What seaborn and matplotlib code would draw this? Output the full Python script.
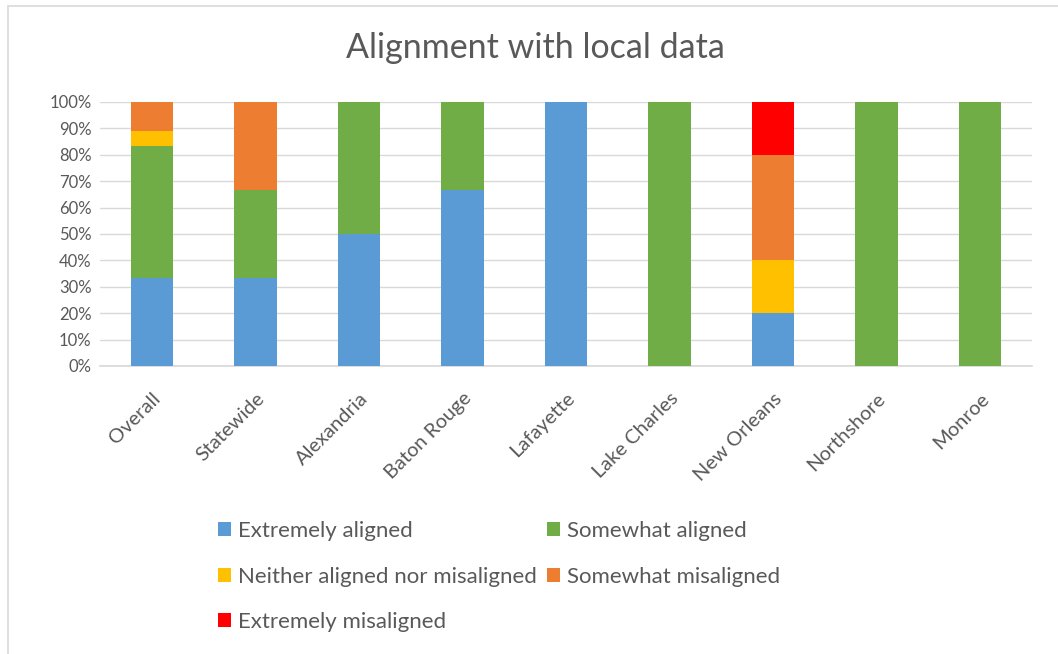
import matplotlib
matplotlib.use("Agg")
import matplotlib.pyplot as plt
import seaborn as sns
import pandas as pd
import numpy as np
from matplotlib.patches import Patch
from matplotlib.lines import Line2D

categories = ["Overall", "Statewide", "Alexandria", "Baton Rouge", "Lafayette",
              "Lake Charles", "New Orleans", "Northshore", "Monroe"]
series_names = ["Extremely aligned", "Somewhat aligned", "Neither aligned nor misaligned",
                "Somewhat misaligned", "Extremely misaligned"]
extremely_aligned = [33.3, 33.3, 50.0, 66.7, 100.0, 0.0, 20.0, 0.0, 0.0]
somewhat_aligned = [50.0, 33.3, 50.0, 33.3, 0.0, 100.0, 0.0, 100.0, 100.0]
neither = [5.6, 0.0, 0.0, 0.0, 0.0, 0.0, 20.0, 0.0, 0.0]
somewhat_misaligned = [11.1, 33.4, 0.0, 0.0, 0.0, 0.0, 40.0, 0.0, 0.0]
extremely_misaligned = [0.0, 0.0, 0.0, 0.0, 0.0, 0.0, 20.0, 0.0, 0.0]
colors = ["#5B9BD5", "#70AD47", "#FFC000", "#ED7D31", "#FF0000"]
yticks = [0, 10, 20, 30, 40, 50, 60, 70, 80, 90, 100]

sns.set_theme(style="white")
plt.rcParams["font.family"] = ["Lato", "DejaVu Sans"]

values = [extremely_aligned, somewhat_aligned, neither, somewhat_misaligned, extremely_misaligned]
cum = np.cumsum(np.array(values), axis=0)

fig = plt.figure(figsize=(10.58, 6.54), dpi=100)
ax = fig.add_axes([100/1058, 1 - 366/654, 932/1058, 264/654])

for i in range(len(series_names) - 1, -1, -1):
    df = pd.DataFrame({"cat": categories, "val": cum[i]})
    sns.barplot(data=df, x="cat", y="val", color=colors[i], width=0.41,
                saturation=1, ax=ax, zorder=3, linewidth=0)

ax.set_ylim(0, 100)
ax.set_xlim(-0.5, len(categories) - 0.5)
ax.set_yticks(yticks)
ax.set_yticklabels([f"{t}%" for t in yticks], fontsize=12, color="#595959")
ax.yaxis.grid(True, color="#D9D9D9", linewidth=1, zorder=0)
ax.set_axisbelow(True)
ax.set_xlabel("")
ax.set_ylabel("")
ax.tick_params(axis="y", length=0, pad=6)
ax.tick_params(axis="x", length=0, pad=17)
ax.set_xticks(range(len(categories)))
ax.set_xticklabels(categories, rotation=45, ha="right", rotation_mode="anchor",
                   fontsize=14.5, color="#595959")
for s in ["top", "right", "left"]:
    ax.spines[s].set_visible(False)
ax.spines["bottom"].set_color("#D9D9D9")

fig.text(535/1058, 1 - 48/654, "Alignment with local data", ha="center", va="center",
         fontsize=24.5, color="#595959")

handles = [Patch(facecolor=c, edgecolor="none") for c in colors]
order = [0, 2, 4, 1, 3]
leg = fig.legend([handles[i] for i in order], [series_names[i] for i in order],
                 ncol=2, loc="upper left", bbox_to_anchor=(218/1058, 1 - 521/654),
                 frameon=False, fontsize=16, handlelength=0.6, handleheight=0.6,
                 handletextpad=0.3, columnspacing=0.45, labelspacing=1.15,
                 labelcolor="#595959", borderpad=0, borderaxespad=0)

fig.add_artist(Line2D([8/1058, 8/1058], [0, 1 - 6/654], transform=fig.transFigure,
                      color="#D9D9D9", linewidth=1.2))
fig.add_artist(Line2D([8/1058, 1], [1 - 6/654, 1 - 6/654], transform=fig.transFigure,
                      color="#D9D9D9", linewidth=1.2))

fig.savefig("out.png", dpi=100, facecolor="white")
